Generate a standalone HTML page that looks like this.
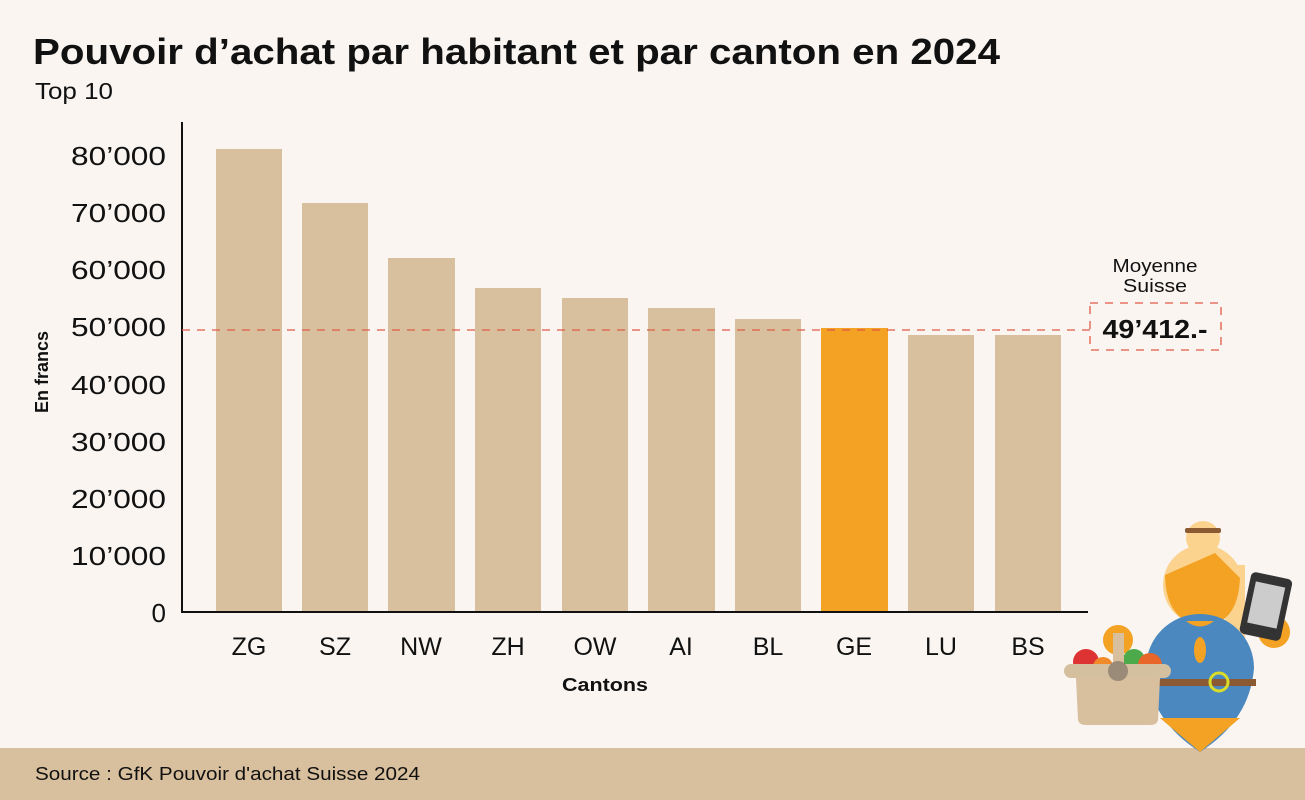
<!DOCTYPE html>
<html><head><meta charset="utf-8"><style>
body{margin:0;width:1305px;height:800px;background:#faf5f1;overflow:hidden;font-family:"Liberation Sans",Arial,sans-serif;}
</style></head><body>
<svg width="1305" height="800" xmlns="http://www.w3.org/2000/svg" style="position:absolute;left:0;top:0">
<rect width="1305" height="800" fill="#faf5f1"/>
<text x="33" y="64" font-size="36" font-weight="bold" fill="#111" textLength="967" lengthAdjust="spacingAndGlyphs">Pouvoir d’achat par habitant et par canton en 2024</text>
<text x="35" y="99" font-size="23" fill="#111" textLength="78" lengthAdjust="spacingAndGlyphs">Top 10</text>
<g font-size="26" fill="#111" text-anchor="end">
<text x="166" y="165" textLength="95" lengthAdjust="spacingAndGlyphs">80’000</text>
<text x="166" y="222" textLength="95" lengthAdjust="spacingAndGlyphs">70’000</text>
<text x="166" y="279" textLength="95" lengthAdjust="spacingAndGlyphs">60’000</text>
<text x="166" y="336" textLength="95" lengthAdjust="spacingAndGlyphs">50’000</text>
<text x="166" y="394" textLength="95" lengthAdjust="spacingAndGlyphs">40’000</text>
<text x="166" y="451" textLength="95" lengthAdjust="spacingAndGlyphs">30’000</text>
<text x="166" y="508" textLength="95" lengthAdjust="spacingAndGlyphs">20’000</text>
<text x="166" y="565" textLength="95" lengthAdjust="spacingAndGlyphs">10’000</text>
<text x="166" y="622">0</text>
</g>
<text transform="translate(48,372) rotate(-90)" font-size="18" font-weight="bold" fill="#111" text-anchor="middle">En francs</text>
<g fill="#d8bf9d">
<rect x="216" y="149" width="66" height="463"/>
<rect x="302" y="203" width="66" height="409"/>
<rect x="388" y="258" width="67" height="354"/>
<rect x="475" y="288" width="66" height="324"/>
<rect x="562" y="298" width="66" height="314"/>
<rect x="648" y="308" width="67" height="304"/>
<rect x="735" y="319" width="66" height="293"/>
<rect x="908" y="335" width="66" height="277"/>
<rect x="995" y="335" width="66" height="277"/>
</g>
<rect x="821" y="328" width="67" height="284" fill="#f4a223"/>
<line x1="182" y1="122" x2="182" y2="613" stroke="#111" stroke-width="2"/>
<line x1="181" y1="612" x2="1088" y2="612" stroke="#111" stroke-width="2"/>
<line x1="182" y1="330" x2="1090" y2="330" stroke="#e05a48" stroke-width="1.3" stroke-dasharray="8,7"/>
<rect x="1090" y="303" width="131" height="47" fill="none" stroke="#e05a48" stroke-width="1.3" stroke-dasharray="8,7"/>
<text x="1155" y="272" font-size="18" fill="#111" text-anchor="middle" textLength="85" lengthAdjust="spacingAndGlyphs">Moyenne</text>
<text x="1155" y="292" font-size="18" fill="#111" text-anchor="middle" textLength="64" lengthAdjust="spacingAndGlyphs">Suisse</text>
<text x="1155" y="338" font-size="26" font-weight="bold" fill="#111" text-anchor="middle" textLength="105" lengthAdjust="spacingAndGlyphs">49’412.-</text>
<g font-size="25" fill="#111" text-anchor="middle">
<text x="249" y="655">ZG</text><text x="335" y="655">SZ</text><text x="421" y="655">NW</text>
<text x="508" y="655">ZH</text><text x="595" y="655">OW</text><text x="681" y="655">AI</text>
<text x="768" y="655">BL</text><text x="854" y="655">GE</text><text x="941" y="655">LU</text>
<text x="1028" y="655">BS</text>
</g>
<text x="605" y="691" font-size="18" font-weight="bold" fill="#111" text-anchor="middle" textLength="86" lengthAdjust="spacingAndGlyphs">Cantons</text>
<rect x="0" y="748" width="1305" height="52" fill="#d8bf9d"/>
<text x="35" y="780" font-size="18" fill="#111" textLength="385" lengthAdjust="spacingAndGlyphs">Source : GfK Pouvoir d'achat Suisse 2024</text>
<!-- illustration -->
<rect x="1225" y="565" width="20" height="80" fill="#fbd38e"/>
<circle cx="1203" cy="538" r="17" fill="#fbd38e"/>
<rect x="1185" y="528" width="36" height="5" rx="2" fill="#8b5a32"/>
<circle cx="1203" cy="585" r="40" fill="#fbd38e"/>
<path d="M1165,575 L1215,553 L1240,578 Q1238,625 1203,625 Q1166,623 1165,575 Z" fill="#f4a223"/>
<circle cx="1274" cy="632" r="16" fill="#f4a223"/>
<path d="M1146,668 A54,54 0 0 1 1254,668 Q1250,720 1200,752 Q1150,720 1146,668 Z" fill="#4a88bf"/>
<path d="M1160,718 L1240,718 L1200,752 Z" fill="#f4a223"/>
<path d="M1186,621 L1214,621 Q1200,632 1186,621Z" fill="#f4a223"/>
<ellipse cx="1200" cy="650" rx="6" ry="13" fill="#f4a223"/>
<rect x="1150" y="679" width="106" height="7" fill="#8b5a32"/>
<circle cx="1219" cy="682" r="9" fill="none" stroke="#d9dd2a" stroke-width="3"/>
<rect x="1245" y="575" width="42" height="63" rx="5" fill="#333" transform="rotate(12 1266 606)"/>
<rect x="1251" y="584" width="30" height="42" fill="#ccc" transform="rotate(12 1266 606)"/>
<circle cx="1118" cy="640" r="15" fill="#f4a223"/>
<circle cx="1086" cy="662" r="13" fill="#d33"/>
<circle cx="1134" cy="660" r="11" fill="#4caa4a"/>
<circle cx="1150" cy="665" r="12" fill="#e8662a"/>
<circle cx="1103" cy="667" r="10" fill="#f08a2a"/>
<rect x="1113" y="633" width="11" height="38" fill="#d8bf9d"/>
<rect x="1064" y="664" width="107" height="14" rx="7" fill="#d4bf9e"/>
<path d="M1076,678 L1160,678 L1158,720 Q1157,725 1150,725 L1086,725 Q1079,725 1078,720 Z" fill="#d8bf9d"/>
<circle cx="1118" cy="671" r="10" fill="#9a8a78"/>
</svg>
</body></html>
